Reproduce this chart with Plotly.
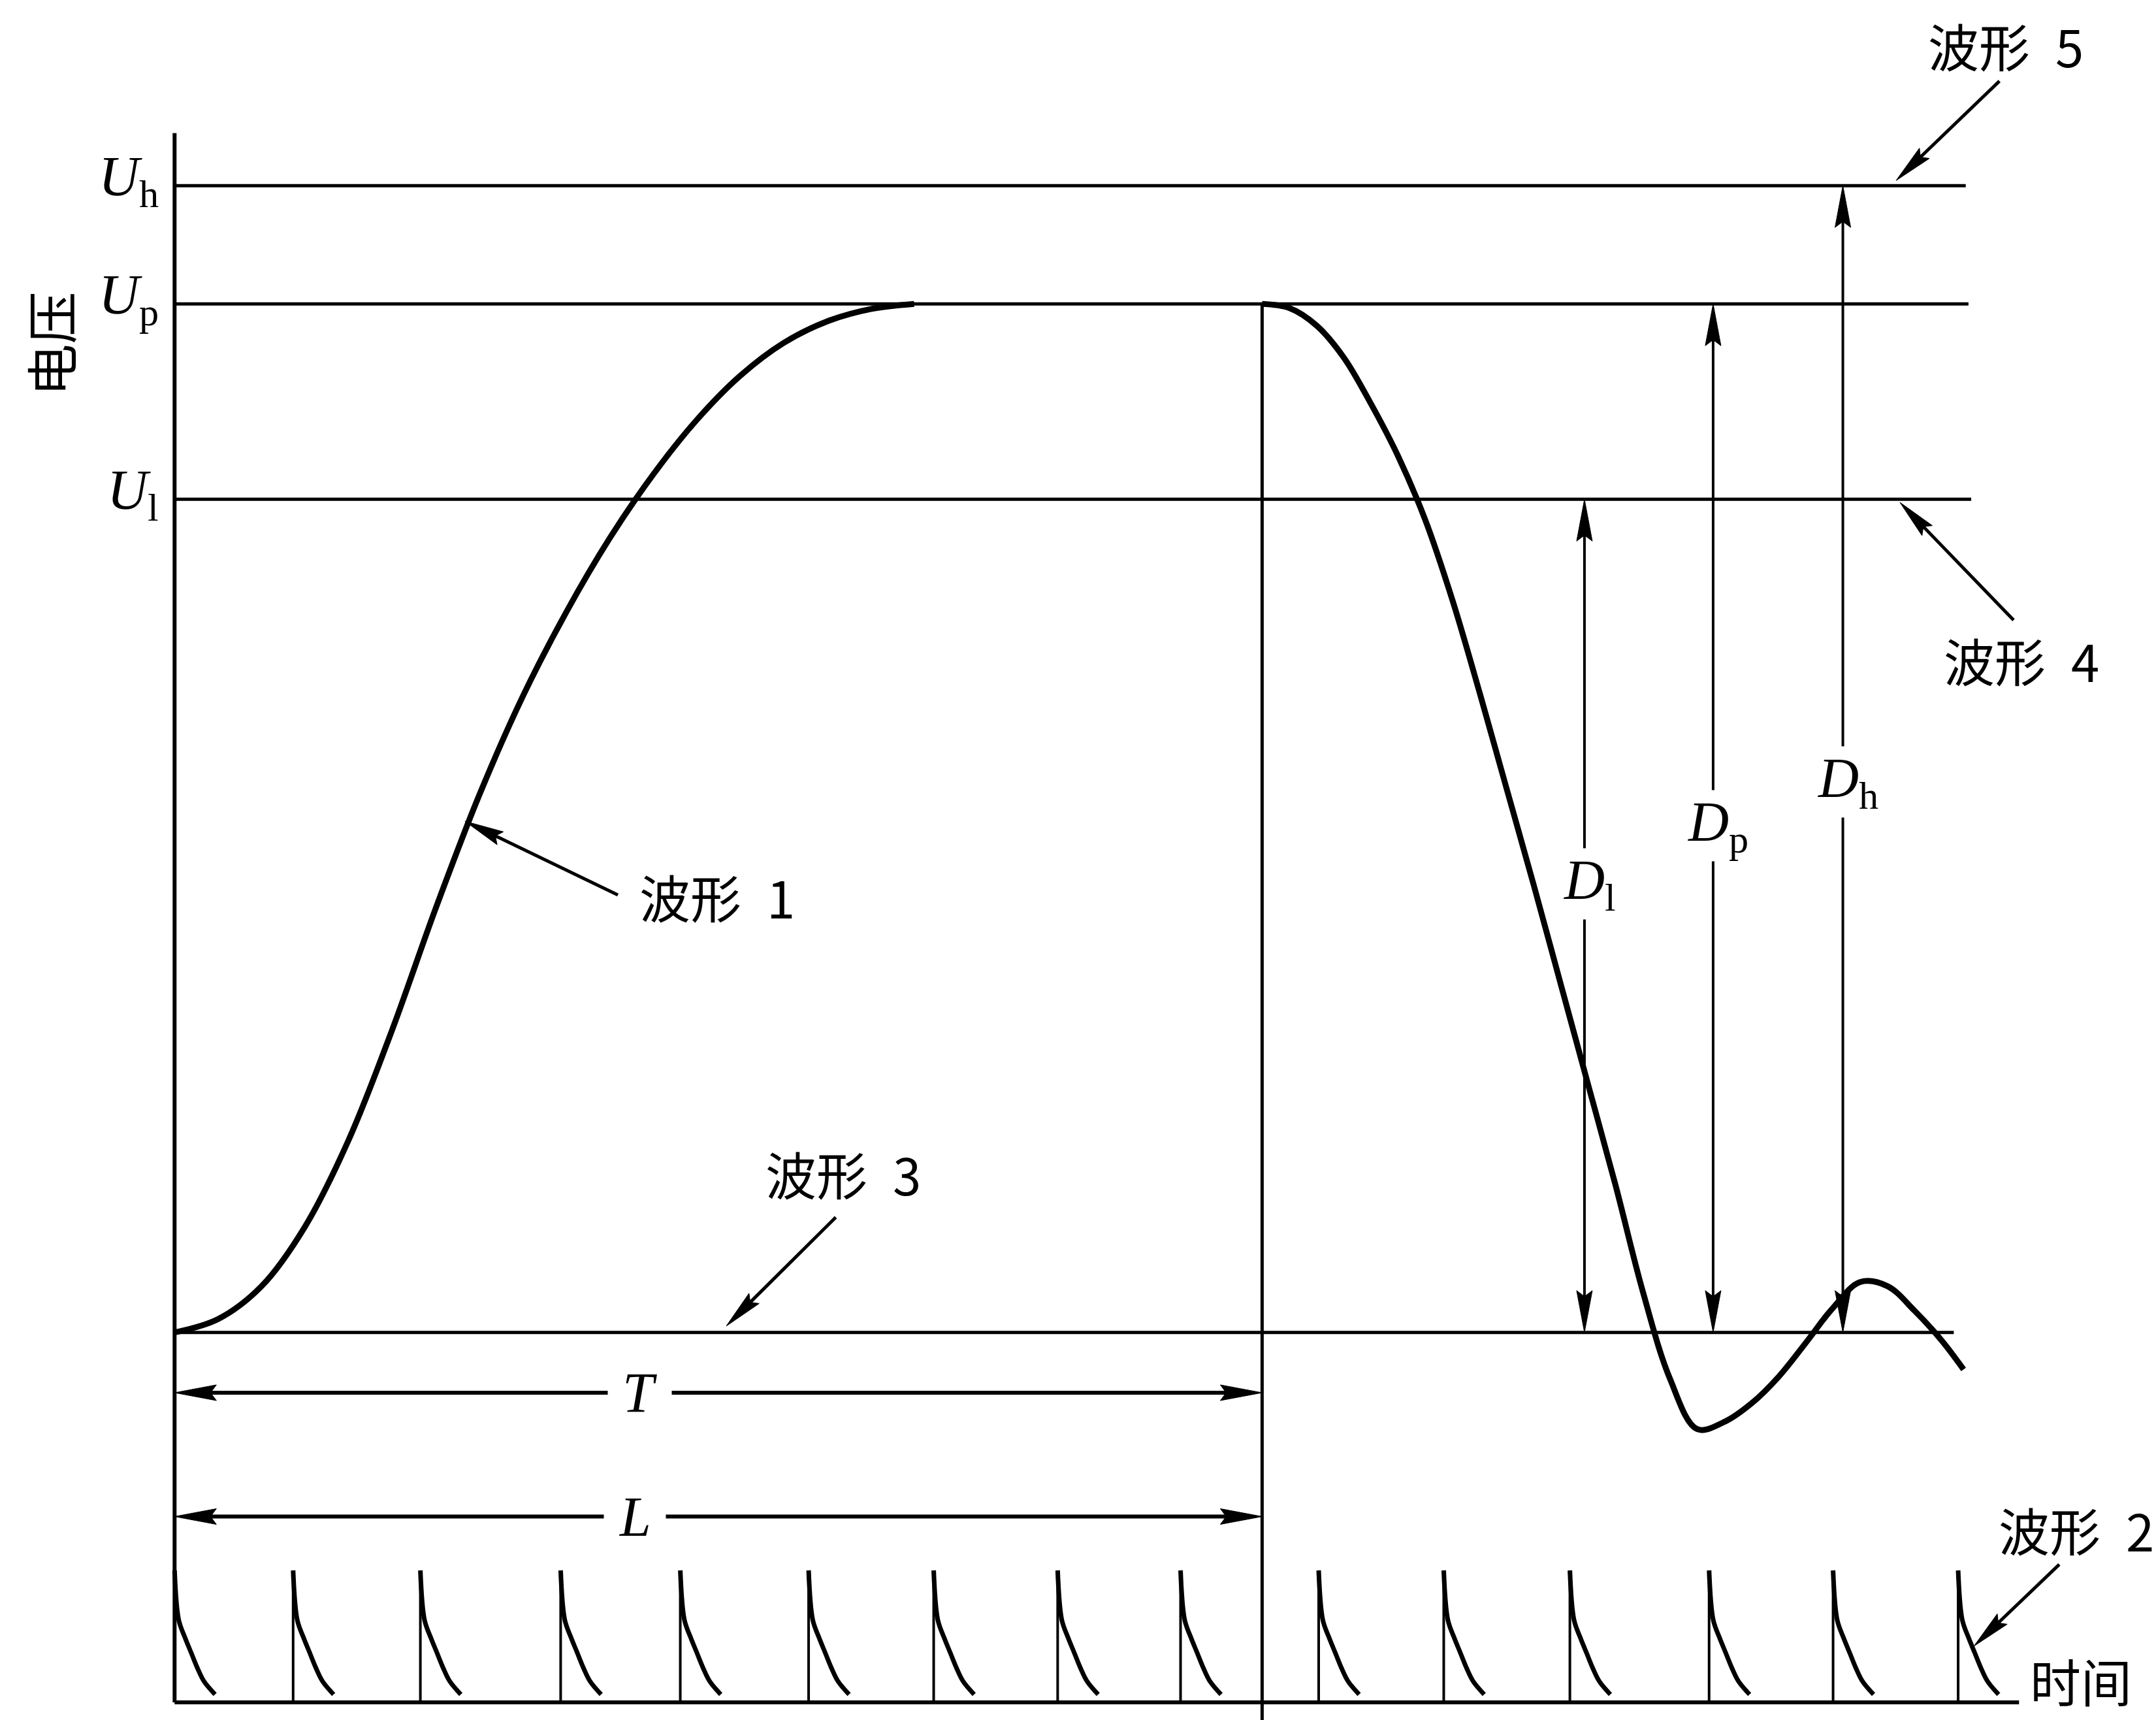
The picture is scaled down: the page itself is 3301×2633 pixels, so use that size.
import math
import plotly.graph_objects as go

# ---------------- values ----------------
# time in units of the period T (T = 1), voltage normalised so that U_p = 1
T_LEN = 1.0
L_LEN = 1.0
U_H = 1.115
U_P = 1.0
U_L = 0.81

level_labels = ["<i>U</i><sub>h</sub>", "<i>U</i><sub>p</sub>", "<i>U</i><sub>l</sub>"]
level_values = [U_H, U_P, U_L]
level_ends = [1.647, 1.6495, 1.652]     # right end of each level line (time)
BASE_END = 1.636                         # right end of waveform 3 (zero line)
TIME_AXIS_END = 1.696
V_AXIS_TOP = 1.166

# waveform 1 : rising edge up to the flat top
rise_t = [0.00, 0.04, 0.08, 0.12, 0.16, 0.20, 0.24, 0.28, 0.32, 0.36,
          0.40, 0.44, 0.48, 0.52, 0.56, 0.60, 0.64, 0.68]
rise_v = [0.000, 0.013, 0.045, 0.103, 0.187, 0.294, 0.412, 0.522, 0.618, 0.700,
          0.772, 0.834, 0.887, 0.930, 0.962, 0.983, 0.995, 1.000]
# waveform 1 : falling edge and ringing
fall_t = [1.000, 1.025, 1.050, 1.075, 1.100, 1.125, 1.150, 1.175, 1.200, 1.225,
          1.250, 1.275, 1.300, 1.325, 1.350, 1.375, 1.400, 1.425, 1.450, 1.475,
          1.500, 1.525, 1.550, 1.575, 1.600, 1.625, 1.645]
fall_v = [1.000, 0.996, 0.979, 0.948, 0.903, 0.852, 0.790, 0.712, 0.622, 0.528,
          0.434, 0.337, 0.240, 0.143, 0.040, -0.045, -0.094, -0.087, -0.069, -0.043,
          -0.010, 0.024, 0.049, 0.045, 0.021, -0.008, -0.036]

# waveform 2 : pulse train (start times) and the shape of one pulse
pulse_t = [0.0, 0.109, 0.226, 0.355, 0.465, 0.583, 0.698, 0.812, 0.925,
           1.052, 1.167, 1.283, 1.411, 1.525, 1.640]
pulse_dt = [0.0, 0.0038, 0.0096, 0.0153, 0.0210, 0.0270, 0.0372]
pulse_v = [1.0, 0.625, 0.49, 0.375, 0.26, 0.16, 0.06]

# dimension arrows
D_names = ["<i>D</i><sub>l</sub>", "<i>D</i><sub>p</sub>", "<i>D</i><sub>h</sub>"]
D_t = [1.2964, 1.4147, 1.534]
D_top = [U_L, U_P, U_H]

# ---------------- layout (pixel anchors, positions, styles) ----------------
W, H = 3301, 2633
T0_PX, T1_PX = 267.3, 1932.4      # x pixel of t = 0 and t = 1
V0_PX, V1_PX = 2039.7, 465.2      # y pixel of V = 0 and V = 1
P0_PX, P1_PX = 2606.0, 2404.0     # y pixel of pulse level 0 and 1 (time axis)

x_range = [(0 - T0_PX) / (T1_PX - T0_PX), (W - T0_PX) / (T1_PX - T0_PX)]
y_range = [(H - V0_PX) / (V1_PX - V0_PX), (0 - V0_PX) / (V1_PX - V0_PX)]
y2_range = [(H - P0_PX) / (P1_PX - P0_PX), (0 - P0_PX) / (P1_PX - P0_PX)]


def to_px(pt, axis):
    t, v = pt
    x = T0_PX + t * (T1_PX - T0_PX)
    if axis == "y":
        y = V0_PX + v * (V1_PX - V0_PX)
    else:
        y = P0_PX + v * (P1_PX - P0_PX)
    return x, y


def from_px(x, y, axis):
    t = (x - T0_PX) / (T1_PX - T0_PX)
    if axis == "y":
        v = (y - V0_PX) / (V1_PX - V0_PX)
    else:
        v = (y - P0_PX) / (P1_PX - P0_PX)
    return t, v


BLACK = "black"
LW_AXIS, LW_LEVEL, LW_CURVE, LW_VLINE = 6, 5, 9, 5
LW_D, LW_TL, LW_PTR = 4, 6, 5
LW_PULSE_V, LW_PULSE = 4, 7
HEAD_LEN, HEAD_W = 64, 24
PTR_HEAD_LEN, PTR_HEAD_W = 60, 22

heads = {"y": ([], []), "y2": ([], [])}


def add_head(tip, tail, axis, length, width):
    tx, ty = to_px(tip, axis)
    sx, sy = to_px(tail, axis)
    d = math.hypot(sx - tx, sy - ty)
    ux, uy = (sx - tx) / d, (sy - ty) / d
    bx, by = tx + ux * length, ty + uy * length
    nx, ny = -uy, ux
    pts = [(tx, ty),
           (bx + nx * width / 2, by + ny * width / 2),
           (tx + ux * length * 0.86, ty + uy * length * 0.86),
           (bx - nx * width / 2, by - ny * width / 2),
           (tx, ty)]
    hx, hy = heads[axis]
    for px, py in pts:
        t, v = from_px(px, py, axis)
        hx.append(t)
        hy.append(v)
    hx.append(None)
    hy.append(None)
    return from_px(tx + ux * length * 0.8, ty + uy * length * 0.8, axis)


fig = go.Figure()


def line(xs, ys, width, axis="y", shape="linear"):
    fig.add_trace(go.Scatter(x=xs, y=ys, mode="lines", yaxis=axis,
                             line=dict(color=BLACK, width=width, shape=shape),
                             hoverinfo="skip", showlegend=False))


# level lines (waveforms 4, 5, U_p) and zero line (waveform 3)
lx, ly = [], []
for val, end in zip(level_values, level_ends):
    lx += [0, end, None]
    ly += [val, val, None]
lx += [0, BASE_END]
ly += [0, 0]
line(lx, ly, LW_LEVEL)

# axes
v_axis_bottom = from_px(0, P0_PX, "y")[1]
line([0, 0], [v_axis_bottom, V_AXIS_TOP], LW_AXIS)
line([0, TIME_AXIS_END], [0, 0], LW_AXIS, axis="y2")

# vertical line at t = T
line([T_LEN, T_LEN], [U_P, y_range[0]], LW_VLINE)

# waveform 1
line(rise_t, rise_v, LW_CURVE, shape="spline")
line(fall_t, fall_v, LW_CURVE, shape="spline")

# waveform 2
vx, vy, dx, dy = [], [], [], []
for t0 in pulse_t:
    vx += [t0, t0, None]
    vy += [0, pulse_v[0], None]
    dx += [t0 + d for d in pulse_dt] + [None]
    dy += list(pulse_v) + [None]
line(vx, vy, LW_PULSE_V, axis="y2")
line(dx, dy, LW_PULSE, axis="y2", shape="spline")

# dimension arrows D_l, D_p, D_h
sx, sy = [], []
for t, top in zip(D_t, D_top):
    a = add_head((t, top), (t, 0), "y", HEAD_LEN, HEAD_W)
    b = add_head((t, 0), (t, top), "y", HEAD_LEN, HEAD_W)
    sx += [a[0], b[0], None]
    sy += [a[1], b[1], None]
line(sx, sy, LW_D)

# T and L arrows
T_Y, L_Y = -0.0586, -0.179
sx, sy = [], []
for yy, length in [(T_Y, T_LEN), (L_Y, L_LEN)]:
    a = add_head((0, yy), (length, yy), "y", HEAD_LEN, HEAD_W)
    b = add_head((length, yy), (0, yy), "y", HEAD_LEN, HEAD_W)
    sx += [a[0], b[0], None]
    sy += [a[1], b[1], None]
line(sx, sy, LW_TL)

# label pointers: (tail, tip, axis)
pointers = [
    ((0.4076, 0.4253), (0.267, 0.497), "y"),              # 波形 1
    ((0.608, 0.112), (0.5073, 0.0062), "y"),              # 波形 3
    ((1.691, U_L - 0.1175), (1.5865, U_L - 0.003), "y"),  # 波形 4
    ((1.678, U_H + 0.1016), (1.583, U_H + 0.005), "y"),   # 波形 5
    ((1.733, 1.045), (1.6545, 0.426), "y2"),              # 波形 2
]
px_y, py_y, px_2, py_2 = [], [], [], []
for tail, tip, axis in pointers:
    b = add_head(tip, tail, axis, PTR_HEAD_LEN, PTR_HEAD_W)
    if axis == "y":
        px_y += [tail[0], b[0], None]
        py_y += [tail[1], b[1], None]
    else:
        px_2 += [tail[0], b[0], None]
        py_2 += [tail[1], b[1], None]
line(px_y, py_y, LW_PTR)
line(px_2, py_2, LW_PTR, axis="y2")

# arrow heads
for axis, (hx, hy) in heads.items():
    fig.add_trace(go.Scatter(x=hx, y=hy, mode="lines", fill="toself", yaxis=axis,
                             fillcolor=BLACK, line=dict(color=BLACK, width=1),
                             hoverinfo="skip", showlegend=False))

# ---------------- text ----------------
SERIF = dict(family="Liberation Serif", size=86, color=BLACK)
CJK = dict(family="Noto Sans CJK SC", size=78, color=BLACK)
ann = []
for txt, val in zip(level_labels, level_values):
    ann.append(dict(x=0, y=val, xref="x", yref="y", text=txt, showarrow=False,
                    xanchor="right", yanchor="middle", xshift=-22, yshift=8, font=SERIF))
D_label_v = [0.441, 0.498, 0.540]
for txt, t, v in zip(D_names, D_t, D_label_v):
    ann.append(dict(x=t, y=v, xref="x", yref="y", text=txt, showarrow=False,
                    xanchor="center", yanchor="middle", xshift=8, yshift=-8, font=SERIF,
                    bgcolor="white", borderpad=0))
ann.append(dict(x=0.4275, y=T_Y, xref="x", yref="y", text="<i>T</i>", showarrow=False,
                font=SERIF, bgcolor="white", borderpad=22))
ann.append(dict(x=0.4232, y=L_Y, xref="x", yref="y", text="<i>L</i>", showarrow=False,
                font=SERIF, bgcolor="white", borderpad=22))
ann.append(dict(x=-0.1155, y=0.961, xref="x", yref="y", text="电压", showarrow=False,
                textangle=-90, font=dict(family="Noto Sans CJK SC", size=80, color=BLACK)))
cjk_labels = [
    ("波形\u20021", 0.499, 0.424, "y", "center"),
    ("波形\u20023", 0.615, 0.155, "y", "center"),
    ("波形\u20024", 1.698, U_L - 0.156, "y", "center"),
    ("波形\u20025", 1.684, U_H + 0.1366, "y", "center"),
    ("波形\u20022", 1.676, 1.31, "y2", "left"),
    ("时间", 1.705, 0.17, "y2", "left"),
]
for txt, t, v, axis, xa in cjk_labels:
    ann.append(dict(x=t, y=v, xref="x", yref=axis, text=txt, showarrow=False,
                    xanchor=xa, yanchor="middle", font=CJK))

fig.update_layout(
    width=W, height=H, autosize=False,
    margin=dict(l=0, r=0, t=0, b=0, pad=0),
    paper_bgcolor="white", plot_bgcolor="white",
    showlegend=False,
    xaxis=dict(range=x_range, visible=False, fixedrange=True, domain=[0, 1]),
    yaxis=dict(range=y_range, visible=False, fixedrange=True, domain=[0, 1]),
    yaxis2=dict(range=y2_range, visible=False, fixedrange=True, overlaying="y"),
    annotations=ann,
)

fig.write_html("out.html", config={"displayModeBar": False},
               post_script="document.body.style.margin='0';document.body.style.overflow='hidden';")
